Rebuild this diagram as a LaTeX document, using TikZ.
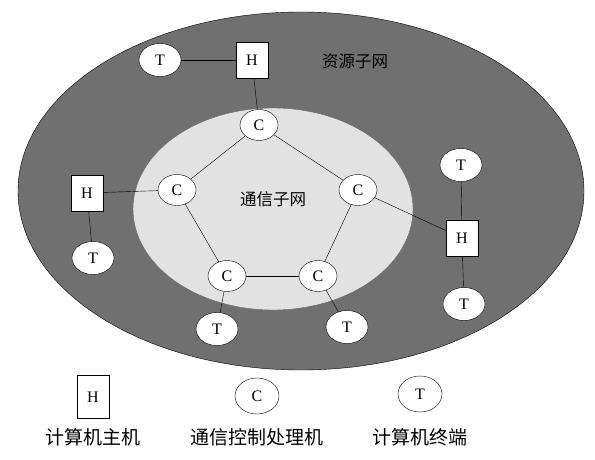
\documentclass[tikz,border=0pt]{standalone}
\usepackage{fontspec}
\setmainfont{Liberation Serif}
\newfontfamily\cjk{Noto Sans CJK SC}
\usetikzlibrary{positioning,shapes.geometric}
\definecolor{resgray}{RGB}{112,112,112}
\definecolor{comgray}{RGB}{226,226,226}

\begin{document}
\begin{tikzpicture}[x=1pt,y=-1pt,
    every node/.style={inner sep=0pt,font=\fontsize{16}{16}\selectfont},
    host/.style={rectangle,draw,fill=white,minimum width=32pt,minimum height=36pt},
    cpu/.style={ellipse,draw,fill=white,minimum width=38pt,minimum height=31pt},
    term/.style={ellipse,draw,fill=white,minimum width=42pt,minimum height=33pt},
    lbl/.style={font=\cjk\fontsize{16.5}{16.5}\selectfont},
    key/.style={font=\cjk\fontsize{19}{19}\selectfont}]
    \useasboundingbox (0,0) rectangle (595,460);

    % subnets
    \draw[fill=resgray] (301,191) ellipse [x radius=283, y radius=179];
    \draw[draw=black!60,fill=comgray] (273,209) ellipse [x radius=140, y radius=101];
    \node[lbl] (res) at (355,61) {资源子网};
    \node[lbl] (com) at (273,199) {通信子网};

    % communication processors
    \node[cpu] (c1) at (259,125) {C};
    \node[cpu] (c2) at (358,190) {C};
    \node[cpu] (c3) at (318,276) {C};
    \node[cpu] (c4) at (227,276) {C};
    \node[cpu] (c5) at (177,190) {C};
    \foreach \u/\v in {c1/c2,c2/c3,c3/c4,c4/c5,c5/c1}
      \draw (\u) -- (\v);

    % hosts
    \node[host] (h1) at (252,60) {H};
    \node[host] (h2) at (87,193) {H};
    \node[host] (h3) at (462,238) {H};

    % terminals
    \node[term] (t1) at (160,60) {T};
    \node[term] (t2) at (93,258) {T};
    \node[term] (t3) at (461,165) {T};
    \node[term] (t4) at (464,304) {T};
    \node[term] (t5) at (217,329) {T};
    \node[term] (t6) at (347,327) {T};

    \foreach \u/\v in {t1/h1,h1/c1,h2/c5,h2/t2,c2/h3,h3/t3,h3/t4,c4/t5,c3/t6}
      \draw (\u) -- (\v);

    % legend
    \node[host,minimum height=43pt] (kh) at (93,397) {H};
    \node[cpu,minimum width=44pt,minimum height=36pt] (kc) at (257,396) {C};
    \node[term,minimum width=44pt,minimum height=36pt] (kt) at (420,394) {T};
    \node[key] (kht) at (93,437) {计算机主机};
    \node[key] (kct) at (257,437) {通信控制处理机};
    \node[key] (ktt) at (420,437) {计算机终端};
\end{tikzpicture}
\end{document}
